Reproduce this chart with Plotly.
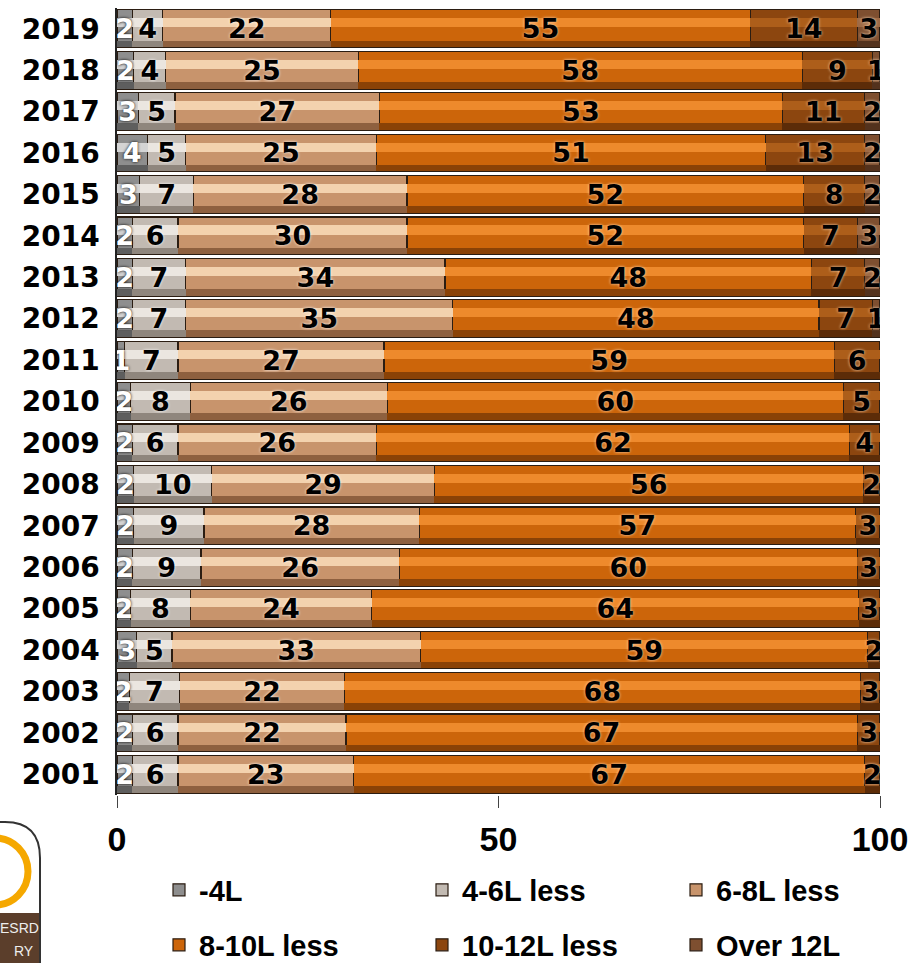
import plotly.graph_objects as go

years = [str(y) for y in range(2001, 2020)]

series_names = ["-4L", "4-6L less", "6-8L less", "8-10L less", "10-12L less", "Over 12L"]

lt4 = [2, 2, 1.6, 2.6, 1.8, 2, 2.2, 2.2, 2, 1.8, 1, 2, 2, 2, 3, 4, 2.8, 2.2, 2]
l4_6 = [6, 6, 6.6, 4.6, 7.8, 9, 9.2, 10.2, 6, 7.8, 7, 7, 7, 6, 7, 5, 4.8, 4.2, 4]
l6_8 = [23, 22, 21.6, 32.6, 23.8, 26, 28.2, 29.2, 26, 25.8, 27, 35, 34, 30, 28, 25, 26.8, 25.2, 22]
l8_10 = [67, 67, 67.6, 58.6, 63.8, 60, 57.2, 56.2, 62, 59.8, 59, 48, 48, 52, 52, 51, 52.8, 58.2, 55]
l10_12 = [2, 3, 2.6, 1.6, 2.8, 3, 3.2, 2.2, 4, 4.8, 6, 7, 7, 7, 8, 13, 10.8, 9.2, 14]
over12 = [None] * 11 + [1, 2, 3, 2, 2, 2, 1.0, 3]

x_ticks = [0, 50, 100]

series_values = [lt4, l4_6, l6_8, l8_10, l10_12, over12]
colors = ["#8e8e8e", "#c2bab2", "#c8946c", "#cc650a", "#8c460f", "#7e4f30"]
highlight = ["#d4d4d4", "#ebe6e0", "#f3d2ae", "#ee8a2c", "#ad5e1a", "#9e6a45"]
shade = ["#5e5e5e", "#8f867d", "#8e603f", "#8a4206", "#5c2c08", "#53321d"]
text_colors = ["white", "black", "black", "black", "black", "black"]
shadows = ["0px 0px 3px black", "0px 0px 3px white", "0px 0px 3px white",
           "0px 0px 3px #ffe0c0", "0px 0px 3px #ffe0c0", "0px 0px 3px #ffe0c0"]

FONT = "Arial, Liberation Sans, sans-serif"
WIDE = "DejaVu Sans, Verdana, sans-serif"

legend_ids = ["legend", "legend2", "legend3", "legend4", "legend5", "legend6"]

fig = go.Figure()
for i, (name, vals) in enumerate(zip(series_names, series_values)):
    fig.add_trace(go.Bar(
        y=years, x=vals, name=name, orientation="h", yaxis="y",
        marker=dict(color=colors[i], line=dict(color="#2b1d12", width=1.2)),
        legend=legend_ids[i], hoverinfo="skip", showlegend=True,
    ))
for i, vals in enumerate(series_values):
    fig.add_trace(go.Bar(
        y=years, x=vals, orientation="h", yaxis="y2",
        width=0.16, offset=-0.445,
        marker=dict(color=shade[i], line=dict(width=0)),
        hoverinfo="skip", showlegend=False,
    ))
for i, vals in enumerate(series_values):
    fig.add_trace(go.Bar(
        y=years, x=vals, orientation="h", yaxis="y3",
        width=0.22, offset=0.03,
        marker=dict(color=highlight[i], line=dict(width=0)),
        hoverinfo="skip", showlegend=False,
    ))
for i, vals in enumerate(series_values):
    fig.add_trace(go.Bar(
        y=years, x=vals, orientation="h", yaxis="y4",
        marker=dict(color="rgba(0,0,0,0)", line=dict(width=0)),
        texttemplate="%{x:.0f}", textposition="inside", insidetextanchor="middle",
        textfont=dict(family=WIDE, size=27, color=text_colors[i], weight="bold",
                      shadow=shadows[i]),
        hoverinfo="skip", showlegend=False,
    ))

L, R, T, B = 117, 880, 8, 795
W, H = 916, 963


def px(x):
    return (x - L) / (R - L)


def py(y):
    return (B - y) / (B - T)


shapes = [
    dict(type="circle", xref="paper", yref="paper",
         x0=px(-38), x1=px(28), y0=py(905), y1=py(838),
         line=dict(color="#f5a800", width=7)),
    dict(type="rect", xref="paper", yref="paper",
         x0=px(0), x1=px(40), y0=py(963), y1=py(913),
         fillcolor="#5b3e2b", line=dict(width=0)),
    dict(type="path", xref="paper", yref="paper",
         path=f"M {px(-5)},{py(822)} L {px(5)},{py(822)} Q {px(40)},{py(822)} {px(40)},{py(858)} L {px(40)},{py(963)}",
         line=dict(color="#333333", width=2)),
]
annotations = [
    dict(xref="paper", yref="paper", x=px(41), y=py(928), text="ESRD", showarrow=False,
         xanchor="right", yanchor="middle", font=dict(family=FONT, size=14, color="#eeeeee")),
    dict(xref="paper", yref="paper", x=px(36), y=py(951), text="RY", showarrow=False,
         xanchor="right", yanchor="middle", font=dict(family=FONT, size=14, color="#eeeeee")),
]

legend_font = dict(family=FONT, size=29, color="black", weight="bold")
leg_x = [159, 422, 676]
leg_y = [890, 945]

layout_legends = {}
for i, lid in enumerate(legend_ids):
    layout_legends[lid] = dict(
        x=px(leg_x[i % 3]), xanchor="left", y=py(leg_y[i // 3]), yanchor="middle",
        font=legend_font, itemclick=False, itemdoubleclick=False,
        bgcolor="rgba(0,0,0,0)", borderwidth=0,
    )

fig.update_layout(
    width=W, height=H,
    margin=dict(l=L, r=W - R, t=T, b=H - B, autoexpand=False),
    paper_bgcolor="white", plot_bgcolor="white",
    barmode="stack", bargap=0.09,
    uniformtext=dict(minsize=27, mode="show"),
    xaxis=dict(range=[0, 100], tickvals=x_ticks, ticks="outside", ticklen=12,
               tickcolor="#444", showgrid=False, zeroline=False, showline=False,
               tickfont=dict(family=FONT, size=34, color="black", weight="bold"),
               ticklabelstandoff=2),
    yaxis=dict(showgrid=False, showline=True, linecolor="#222", linewidth=1.5,
               ticks="", ticklabelstandoff=10,
               tickfont=dict(family=WIDE, size=28, color="black", weight="bold")),
    yaxis2=dict(overlaying="y", matches="y", visible=False),
    yaxis3=dict(overlaying="y", matches="y", visible=False),
    yaxis4=dict(overlaying="y", matches="y", visible=False),
    shapes=shapes, annotations=annotations,
    showlegend=True,
    **layout_legends,
)

fig.write_html(
    "out.html",
    config={"displayModeBar": False},
    post_script=["document.body.style.margin='0px';document.body.style.overflow='hidden';"],
)
